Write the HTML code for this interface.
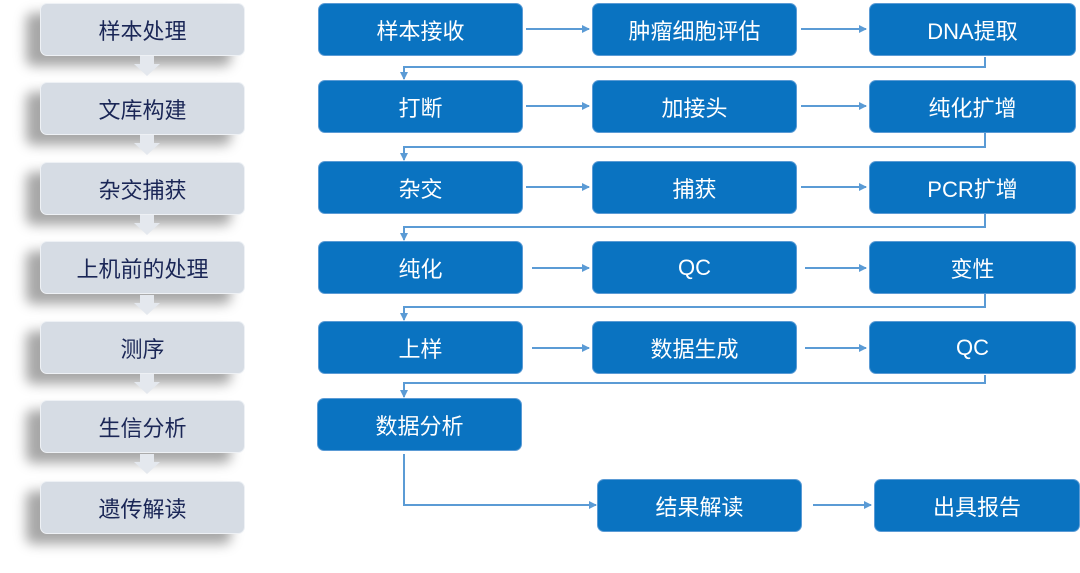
<!DOCTYPE html>
<html><head><meta charset="utf-8"><style>
body{margin:0;width:1080px;height:573px;background:#fff;position:relative;overflow:hidden;font-family:"Liberation Sans","Noto Sans CJK SC",sans-serif}
.g,.b{position:absolute;display:flex;align-items:center;justify-content:center;font-size:22px;border-radius:7px;box-sizing:border-box}
.g{background:#d6dce4;color:#1a2656;left:40px;width:205px;height:53px;border:1px solid #eef1f5;box-shadow:-14px 10px 12px rgba(0,0,0,0.35)}
.b{background:#0a73c1;color:#fff;height:53px;border:1px solid #5b9bd5}
svg{position:absolute;left:0;top:0}
.dn{position:absolute;left:134px;width:0;height:0;border-left:13px solid transparent;border-right:13px solid transparent;border-top:12px solid #e4e8ee;z-index:2}
.dr{position:absolute;left:140px;width:14px;height:8px;background:#e4e8ee;z-index:2}
</style></head><body>
<div class="g" style="top:3px">样本处理</div>
<div class="g" style="top:82px">文库构建</div>
<div class="g" style="top:162px">杂交捕获</div>
<div class="g" style="top:241px">上机前的处理</div>
<div class="g" style="top:321px">测序</div>
<div class="g" style="top:400px">生信分析</div>
<div class="g" style="top:481px">遗传解读</div>
<div class="dr" style="top:56px"></div><div class="dn" style="top:64px"></div>
<div class="dr" style="top:135px"></div><div class="dn" style="top:143px"></div>
<div class="dr" style="top:215px"></div><div class="dn" style="top:223px"></div>
<div class="dr" style="top:295px"></div><div class="dn" style="top:303px"></div>
<div class="dr" style="top:374px"></div><div class="dn" style="top:382px"></div>
<div class="dr" style="top:454px"></div><div class="dn" style="top:462px"></div>
<svg width="1080" height="573">
<defs><marker id="a" markerWidth="8" markerHeight="8" refX="7" refY="4" orient="auto" markerUnits="userSpaceOnUse"><path d="M0,0L8,4L0,8z" fill="#5b9bd5"/></marker></defs>
<g stroke="#5b9bd5" stroke-width="2" fill="none" marker-end="url(#a)">
<path d="M526 29H589"/><path d="M801 29H866"/>
<path d="M526 106H589"/><path d="M801 106H866"/>
<path d="M526 187H589"/><path d="M801 187H866"/>
<path d="M532 268H589"/><path d="M805 268H866"/>
<path d="M532 348H589"/><path d="M805 348H866"/>
<path d="M813 505H871"/>
<path d="M985 57V67H404V79"/>
<path d="M985 133V147H404V160"/>
<path d="M985 214V227H404V240"/>
<path d="M985 294V307H404V320"/>
<path d="M985 375V383H404V397"/>
<path d="M404 454V505H596"/>
</g></svg>
<div class="b" style="left:318px;top:3px;width:205px">样本接收</div>
<div class="b" style="left:592px;top:3px;width:205px">肿瘤细胞评估</div>
<div class="b" style="left:869px;top:3px;width:207px">DNA提取</div>
<div class="b" style="left:318px;top:80px;width:205px">打断</div>
<div class="b" style="left:592px;top:80px;width:205px">加接头</div>
<div class="b" style="left:869px;top:80px;width:207px">纯化扩增</div>
<div class="b" style="left:318px;top:161px;width:205px">杂交</div>
<div class="b" style="left:592px;top:161px;width:205px">捕获</div>
<div class="b" style="left:869px;top:161px;width:207px">PCR扩增</div>
<div class="b" style="left:318px;top:241px;width:205px">纯化</div>
<div class="b" style="left:592px;top:241px;width:205px">QC</div>
<div class="b" style="left:869px;top:241px;width:207px">变性</div>
<div class="b" style="left:318px;top:321px;width:205px">上样</div>
<div class="b" style="left:592px;top:321px;width:205px">数据生成</div>
<div class="b" style="left:869px;top:321px;width:207px">QC</div>
<div class="b" style="left:317px;top:398px;width:205px">数据分析</div>
<div class="b" style="left:597px;top:479px;width:205px">结果解读</div>
<div class="b" style="left:874px;top:479px;width:206px">出具报告</div>
</body></html>
